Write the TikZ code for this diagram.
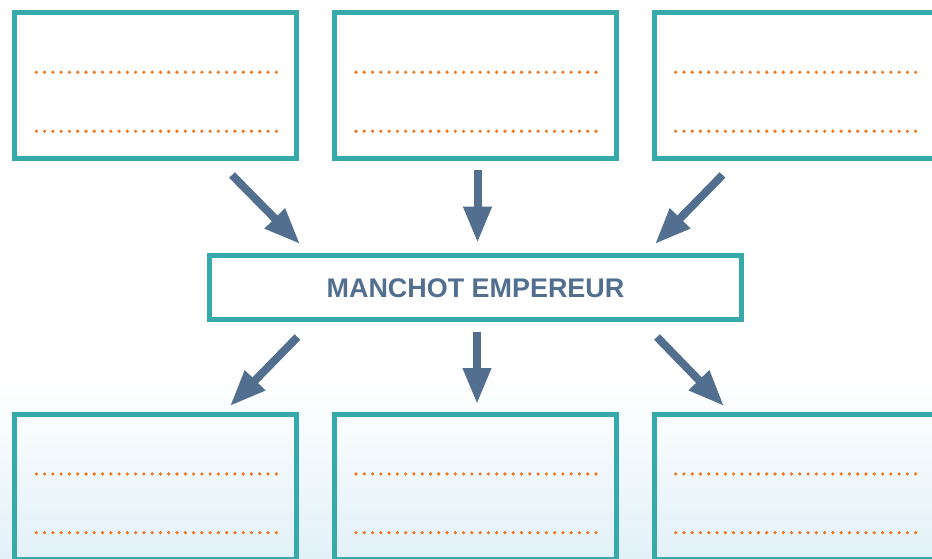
\documentclass[tikz,border=0pt]{standalone}
\usepackage{fontspec}
\setmainfont{Liberation Sans}
\usepackage{tikz}
\usetikzlibrary{arrows.meta, positioning, calc}

\definecolor{boxteal}{RGB}{54,170,171}
\definecolor{arrowblue}{RGB}{82,111,143}
\definecolor{dotorange}{RGB}{242,118,28}
\definecolor{iceblue}{RGB}{226,241,248}

\begin{document}
\begin{tikzpicture}[>={Triangle[length=27pt, width=20pt]}, x=0.75pt, y=-0.75pt,
    node distance=69.6pt and 24.5pt,
    box/.style={draw=boxteal, line width=3.75pt, minimum width=211.5pt, minimum height=109.3pt},
    blockarrow/.style={->, arrowblue, line width=6pt},
    dotline/.style={dotorange, line width=2.7pt, line cap=round, dash pattern=on 0pt off 6.207pt}]

    % page and faded background
    \useasboundingbox (0,0) rectangle (932,558);
    \clip (0,0) rectangle (932,558);
    \shade[top color=white, bottom color=iceblue] (0,380) rectangle (932,558);

    % Centre box
    \node (emp) [draw=boxteal, line width=3.75pt, minimum width=399pt, minimum height=48pt,
        text=arrowblue, font=\fontsize{20.2pt}{24pt}\selectfont\bfseries] at (475.5,287.8) {MANCHOT EMPEREUR};

    % Top row
    \node (tm) [box, above=of emp] {};
    \node (tl) [box, left=of tm] {};
    \node (tr) [box, right=of tm] {};

    % Bottom row
    \node (bm) [box, below=66.9pt of emp] {};
    \node (bl) [box, left=of bm] {};
    \node (br) [box, right=of bm] {};

    % Dotted lines to fill in
    \draw[dotline] ($(tl)+(-119.5,-12.9)$) -- ++(241,0);
    \draw[dotline] ($(tl)+(-119.5,46.1)$) -- ++(241,0);
    \draw[dotline] ($(tm)+(-119.5,-12.9)$) -- ++(241,0);
    \draw[dotline] ($(tm)+(-119.5,46.1)$) -- ++(241,0);
    \draw[dotline] ($(tr)+(-119.5,-12.9)$) -- ++(241,0);
    \draw[dotline] ($(tr)+(-119.5,46.1)$) -- ++(241,0);

    \draw[dotline] ($(bl)+(-119.5,-12.9)$) -- ++(241,0);
    \draw[dotline] ($(bl)+(-119.5,45.8)$) -- ++(241,0);
    \draw[dotline] ($(bm)+(-119.5,-12.9)$) -- ++(241,0);
    \draw[dotline] ($(bm)+(-119.5,45.8)$) -- ++(241,0);
    \draw[dotline] ($(br)+(-119.5,-12.9)$) -- ++(241,0);
    \draw[dotline] ($(br)+(-119.5,45.8)$) -- ++(241,0);

    % Arrow ends
    \coordinate (in1) at (232,175);
    \coordinate (in2) at (477.5,170);
    \coordinate (in3) at (722.5,175);
    \coordinate (hit1) at (300,244);
    \coordinate (hit2) at (477.5,242.7);
    \coordinate (hit3) at (655,244);
    \coordinate (out1) at (297.5,337);
    \coordinate (out2) at (477,331.5);
    \coordinate (out3) at (657,337);
    \coordinate (to1) at (230,406);
    \coordinate (to2) at (477,404);
    \coordinate (to3) at (724,406);

    % Arrows into the centre box
    \draw[blockarrow] (in1) -- (hit1);
    \draw[blockarrow] (in2) -- (hit2);
    \draw[blockarrow] (in3) -- (hit3);

    % Arrows out of the centre box
    \draw[blockarrow] (out1) -- (to1);
    \draw[blockarrow] (out2) -- (to2);
    \draw[blockarrow] (out3) -- (to3);
\end{tikzpicture}
\end{document}
